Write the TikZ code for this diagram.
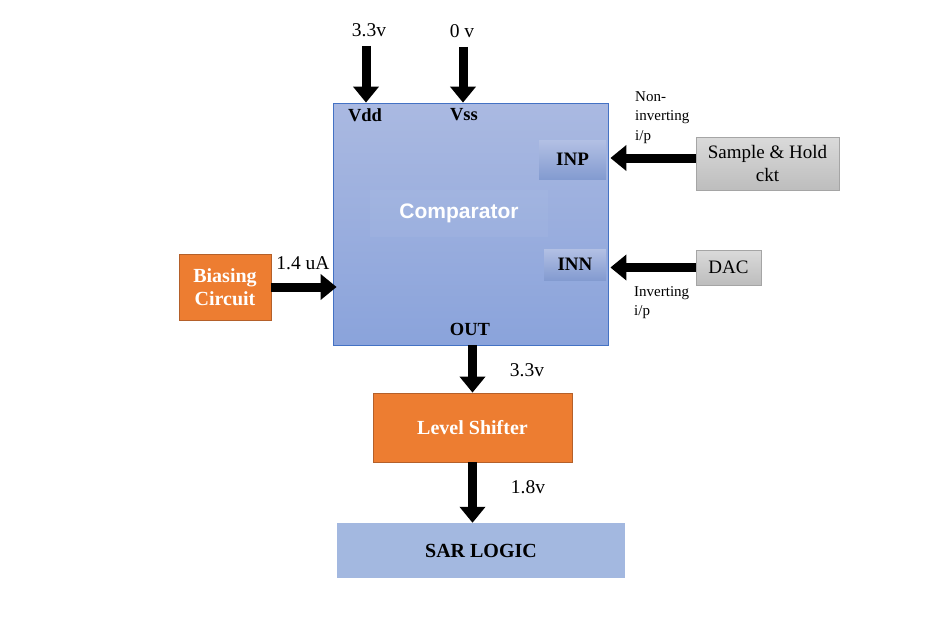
\documentclass[tikz,border=0pt]{standalone}
\usepackage{fontspec}
\setmainfont{Liberation Serif}
\setsansfont{Liberation Sans}
\usetikzlibrary{arrows.meta}
\definecolor{orfill}{HTML}{ED7D31}
\definecolor{ordraw}{HTML}{B4602A}
\definecolor{cmptop}{HTML}{AAB9E1}
\definecolor{cmpbot}{HTML}{8AA3DB}
\definecolor{cmpdraw}{HTML}{4472C4}
\definecolor{gtop}{HTML}{DADADA}
\definecolor{gbot}{HTML}{BDBDBD}
\definecolor{gdraw}{HTML}{A5A5A5}
\definecolor{sarfill}{HTML}{A3B8E0}
\tikzset{
  bigarrow/.style={line width=9pt,-{Triangle[width=25pt,length=16pt]}},
  orbox/.style={draw=ordraw,fill=orfill,line width=0.8pt,text=white,font=\bfseries\fontsize{20}{23}\selectfont,align=center,inner sep=0pt},
  graybox/.style={draw=gdraw,top color=gtop,bottom color=gbot,line width=0.8pt,font=\fontsize{19}{23.5}\selectfont,align=center,inner sep=0pt},
  pinbox/.style={top color=cmptop!90!white,bottom color=cmpbot!95!black,font=\bfseries\fontsize{19}{22}\selectfont,inner sep=0pt},
  lbl/.style={font=\fontsize{19.5}{22}\selectfont,inner sep=0pt},
  smalllbl/.style={font=\fontsize{15}{19.5}\selectfont,inner sep=0pt,align=left},
  pinlbl/.style={font=\bfseries\fontsize{18.5}{22}\selectfont,inner sep=0pt}
}
\begin{document}
\begin{tikzpicture}[x=1pt,y=-1pt]
\useasboundingbox (0,0) rectangle (951,634);
% comparator
\node[draw=cmpdraw,line width=0.8pt,top color=cmptop,bottom color=cmpbot,minimum width=275pt,minimum height=242pt,inner sep=0pt] (comp) at (470.5,224) {};
\node[fill=white,fill opacity=0.04,minimum width=178pt,minimum height=47pt,inner sep=0pt,text opacity=1,text=white,font=\sffamily\bfseries\fontsize{21}{24}\selectfont] (core) at (459,213) {Comparator};
\node[pinbox,minimum width=67pt,minimum height=39pt] (inp) at (572.5,159.5) {INP};
\node[pinbox,minimum width=62pt,minimum height=31pt] (inn) at (575,264.5) {INN};
\node[pinlbl] (vdd) at (365,115) {Vdd};
\node[pinlbl] (vss) at (464,115) {Vss};
\node[pinlbl] (out) at (470,329) {OUT};
% supplies
\coordinate (vddtop) at (366,46);
\coordinate (vsstop) at (463,47);
\node[lbl] (vddv) at (369,30) {3.3v};
\node[lbl] (vssv) at (462,31) {0 v};
\draw[bigarrow] (vddtop) -- (vddtop |- comp.north);
\draw[bigarrow] (vsstop) -- (vsstop |- comp.north);
% right side
\node[graybox,minimum width=143pt,minimum height=53pt] (sh) at (767.5,163.5) {Sample \& Hold\\ckt};
\node[graybox,minimum width=65pt,minimum height=35pt] (dac) at (728.5,267.5) {DAC};
\draw[bigarrow] (sh.west |- 0,158) -- ([xshift=2pt]comp.east |- 0,158);
\draw[bigarrow] (dac.west) -- ([xshift=2pt]comp.east |- dac.west);
\node[smalllbl,anchor=north west] (noninv) at (635,91) {Non-\\inverting\\i/p};
\node[smalllbl,anchor=north west] (inv) at (634,286) {Inverting\\i/p};
% biasing
\node[orbox,minimum width=92pt,minimum height=66pt] (bias) at (225,287) {Biasing\\Circuit};
\draw[bigarrow] (bias.east) -- ([xshift=4pt]comp.west |- bias.east);
\node[lbl] (ua) at (303,263) {1.4 uA};
% level shifter
\node[orbox,minimum width=199pt,minimum height=69pt] (ls) at (472.5,427.5) {Level Shifter};
\draw[bigarrow] (ls.north |- comp.south) -- (ls.north);
\node[lbl] (v33) at (527,370) {3.3v};
% SAR
\node[fill=sarfill,minimum width=288pt,minimum height=55pt,inner sep=0pt,font=\bfseries\fontsize{20}{23}\selectfont] (sar) at (481,550.5) {SAR LOGIC};
\draw[bigarrow] (ls.south) -- (ls.south |- sar.north);
\node[lbl] (v18) at (528,487) {1.8v};
\end{tikzpicture}
\end{document}
